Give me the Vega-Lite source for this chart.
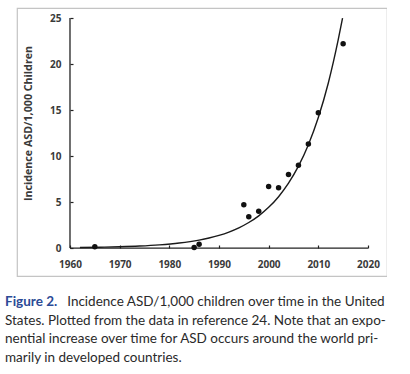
{
  "$schema": "https://vega.github.io/schema/vega-lite/v6.json",
  "width": 370,
  "height": 268,
  "padding": {"left": 5, "top": 8, "right": 0, "bottom": 0},
  "background": "white",
  "config": {"view": {"stroke": "#c4c4c4", "strokeWidth": 1.2}, "font": "Lato"},
  "title": {
    "text": "Figure 2.",
    "subtitle": [
      "\u200b\u00a0\u00a0\u00a0\u00a0\u00a0\u00a0\u00a0\u00a0\u00a0\u00a0\u00a0\u00a0\u00a0\u00a0\u00a0\u00a0\u00a0\u00a0Incidence ASD/1,000 children over time in the United",
      "States. Plotted from the data in reference 24. Note that an expo-",
      "nential increase over time for ASD occurs around the world pri-",
      "marily in developed countries."
    ],
    "orient": "bottom",
    "anchor": "start",
    "dx": -12,
    "offset": 19,
    "font": "Lato",
    "fontSize": 13.5,
    "fontWeight": "bold",
    "color": "#2b4a96",
    "subtitleFont": "Lato",
    "subtitleFontSize": 13.5,
    "subtitleColor": "#2a2a2a",
    "subtitleLineHeight": 18.5,
    "subtitlePadding": -13.5
  },
  "datasets": {
    "observed": [
      {"year": 1965, "incidence": 0.15},
      {"year": 1985, "incidence": 0.05},
      {"year": 1986, "incidence": 0.4},
      {"year": 1995, "incidence": 4.7},
      {"year": 1996, "incidence": 3.4},
      {"year": 1998, "incidence": 4.0},
      {"year": 2000, "incidence": 6.7},
      {"year": 2002, "incidence": 6.55},
      {"year": 2004, "incidence": 8.0},
      {"year": 2006, "incidence": 9.0},
      {"year": 2008, "incidence": 11.3},
      {"year": 2010, "incidence": 14.7},
      {"year": 2015, "incidence": 22.2}
    ],
    "trend": [
      {"year": 1962, "incidence": 0.053},
      {"year": 1966, "incidence": 0.084},
      {"year": 1970, "incidence": 0.134},
      {"year": 1974, "incidence": 0.213},
      {"year": 1978, "incidence": 0.34},
      {"year": 1982, "incidence": 0.542},
      {"year": 1986, "incidence": 0.864},
      {"year": 1988, "incidence": 1.091},
      {"year": 1990, "incidence": 1.378},
      {"year": 1992, "incidence": 1.739},
      {"year": 1994, "incidence": 2.196},
      {"year": 1996, "incidence": 2.773},
      {"year": 1998, "incidence": 3.501},
      {"year": 2000, "incidence": 4.42},
      {"year": 2002, "incidence": 5.581},
      {"year": 2004, "incidence": 7.047},
      {"year": 2006, "incidence": 8.898},
      {"year": 2008, "incidence": 11.235},
      {"year": 2010, "incidence": 14.186},
      {"year": 2012, "incidence": 17.913},
      {"year": 2014, "incidence": 22.617},
      {"year": 2014.88, "incidence": 25.0}
    ]
  },
  "layer": [
    {
      "data": {"values": [{}]},
      "mark": {"type": "rule", "color": "#222222", "strokeWidth": 1.3},
      "encoding": {"x": {"datum": 1960}, "x2": {"datum": 2020}, "y": {"datum": 0}}
    },
    {
      "data": {"values": [{}]},
      "mark": {"type": "rule", "color": "#222222", "strokeWidth": 1.3},
      "encoding": {"x": {"datum": 1960}, "y": {"datum": 0}, "y2": {"datum": 25}}
    },
    {
      "data": {"name": "trend"},
      "mark": {"type": "line", "color": "#1a1a1a", "strokeWidth": 1.4, "interpolate": "monotone"},
      "encoding": {
        "x": {"field": "year", "type": "quantitative"},
        "y": {"field": "incidence", "type": "quantitative"}
      }
    },
    {
      "data": {"name": "observed"},
      "mark": {"type": "circle", "color": "#111111", "opacity": 1, "size": 30},
      "encoding": {
        "x": {
          "field": "year",
          "type": "quantitative",
          "scale": {"domain": [1949.33, 2023.83], "nice": false, "zero": false},
          "axis": {
            "title": null,
            "orient": "bottom",
            "offset": -28,
            "values": [1960, 1970, 1980, 1990, 2000, 2010, 2020],
            "format": "d",
            "domain": false,
            "grid": false,
            "tickSize": -3,
            "tickColor": "#222222",
            "tickWidth": 1.2,
            "labelPadding": 14,
            "labelFont": "Open Sans",
            "labelFontSize": 10,
            "labelFontWeight": "bold",
            "labelColor": "#3a3a3a"
          }
        },
        "y": {
          "field": "incidence",
          "type": "quantitative",
          "scale": {"domain": [-3.04, 26.09], "nice": false, "zero": false},
          "axis": {
            "title": "Incidence ASD/1,000 Children",
            "orient": "left",
            "offset": -53,
            "values": [0, 5, 10, 15, 20, 25],
            "domain": false,
            "grid": false,
            "tickSize": -3,
            "tickColor": "#222222",
            "tickWidth": 1.2,
            "labelPadding": 12,
            "labelFont": "Open Sans",
            "labelFontSize": 10,
            "labelFontWeight": "bold",
            "labelColor": "#3a3a3a",
            "titleFont": "Open Sans",
            "titleFontSize": 10.7,
            "titleFontWeight": "bold",
            "titleColor": "#3a3a3a",
            "titleX": -42,
            "titleY": 115,
            "titleAngle": 270,
            "titleAlign": "center",
            "titleBaseline": "middle"
          }
        }
      }
    }
  ]
}
